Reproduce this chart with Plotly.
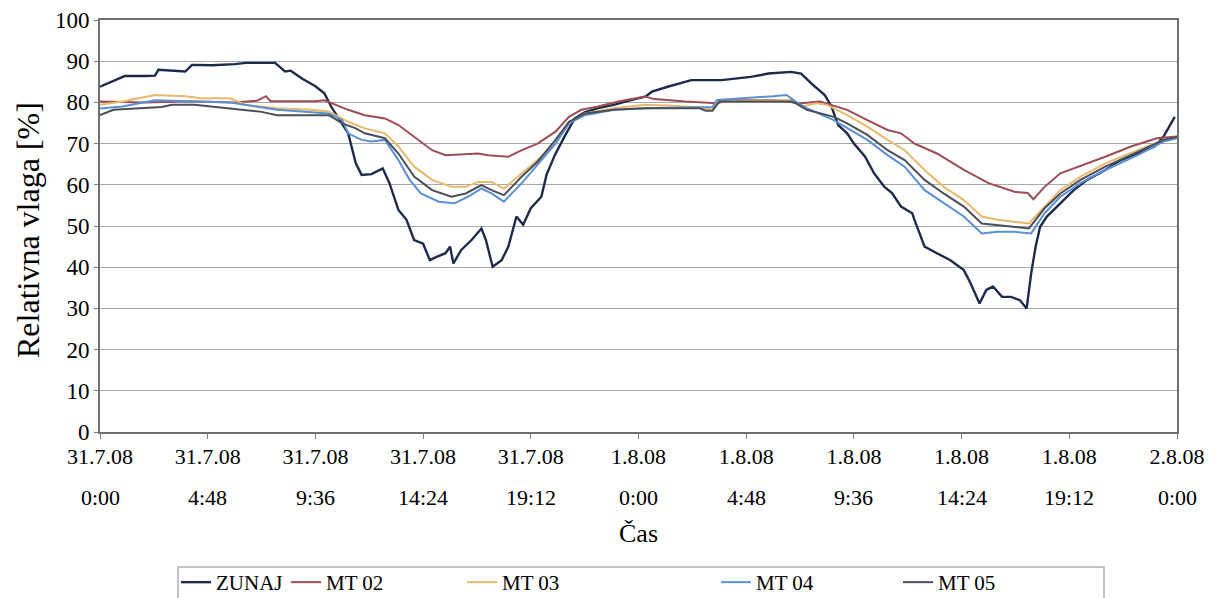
import plotly.graph_objects as go

# ---- data (hours since 31.7.08 0:00, relative humidity %) ----
zunaj_t = [0, 0.5, 1.1, 2.0, 2.45, 2.6, 3.8, 4.1, 5.0, 6.0, 6.5, 7.8, 8.0, 8.25, 8.5, 9.0, 9.6, 10.0,
           10.3, 10.8, 11.06, 11.4, 11.66, 12.1, 12.6, 12.9, 13.3, 13.66, 14.0, 14.4, 14.7, 15.0, 15.4,
           15.6, 15.75, 16.1, 16.56, 17.0, 17.2, 17.5, 17.9, 18.2, 18.56, 18.86, 19.2, 19.67, 19.9,
           20.27, 20.7, 21.16, 21.6, 22.2, 22.9, 23.7, 24.3, 24.6, 25.3, 26.35, 27.7, 29.0, 29.8, 30.8,
           31.25, 31.7, 32.3, 32.6, 32.9, 33.3, 33.6, 34.1, 34.5, 34.96, 35.3, 35.7, 36.2, 36.3, 36.75,
           37.3, 37.9, 38.5, 38.8, 39.2, 39.5, 39.8, 40.2, 40.6, 41.0, 41.3, 41.5, 41.7, 41.9, 42.2,
           42.8, 43.4, 44.0, 44.8, 45.5, 46.25, 47.0, 47.4, 47.9]
zunaj_v = [83.8, 85.0, 86.4, 86.4, 86.5, 87.9, 87.5, 89.1, 89.0, 89.3, 89.6, 89.6, 88.7, 87.5, 87.7, 85.8,
           83.9, 82.2, 79.0, 74.9, 72.5, 65.2, 62.4, 62.6, 64.0, 60.4, 53.9, 51.5, 46.6, 45.7, 41.7, 42.5,
           43.4, 45.0, 40.9, 44.2, 46.6, 49.4, 46.6, 40.1, 41.7, 45.0, 52.3, 50.3, 54.3, 57.1, 62.4, 67.2,
           71.7, 76.1, 77.6, 78.6, 79.4, 80.6, 81.4, 82.6, 83.8, 85.4, 85.4, 86.2, 87.0, 87.4, 87.0, 84.6,
           81.8, 79.0, 74.5, 72.5, 70.0, 66.8, 62.8, 59.5, 58.0, 54.7, 53.1, 51.5, 45.0, 43.4, 41.7, 39.3,
           36.1, 31.2, 34.5, 35.3, 32.8, 32.8, 32.0, 30.0, 38.5, 45.0, 49.8, 52.3, 55.5, 58.7, 61.2, 63.6,
           66.0, 67.6, 69.3, 71.7, 76.5]

mt02_t = [0, 2.0, 4.0, 6.0, 7.0, 7.4, 7.6, 9.6, 10.0, 11.06, 11.8, 12.7, 13.3, 14.0, 14.8, 15.4, 16.3,
          16.85, 17.3, 18.2, 18.8, 19.5, 20.3, 20.9, 21.45, 22.2, 23.1, 24.3, 24.7, 26.1, 27.5, 28.0,
          30.0, 31.25, 32.1, 33.3, 34.2, 35.1, 35.7, 36.3, 36.6, 37.3, 38.5, 39.6, 40.75, 41.35, 41.6,
          42.1, 42.8, 43.6, 44.8, 45.95, 47.1, 48.0]
mt02_v = [80.2, 80.0, 80.3, 80.0, 80.4, 81.5, 80.3, 80.3, 80.5, 78.2, 76.9, 76.1, 74.5, 71.7, 68.4, 67.2,
          67.4, 67.6, 67.2, 66.8, 68.4, 70.0, 72.9, 76.5, 78.2, 79.0, 80.2, 81.4, 80.8, 80.2, 79.8, 80.5,
          80.6, 79.8, 80.2, 78.2, 75.7, 73.3, 72.5, 70.0, 69.3, 67.6, 63.6, 60.4, 58.3, 58.0, 56.5, 59.5,
          62.8, 64.4, 66.8, 69.3, 71.3, 71.7]

mt03_t = [0, 1.0, 2.45, 3.8, 4.5, 5.8, 6.5, 7.9, 9.4, 10.2, 11.06, 11.8, 12.7, 13.3, 14.0, 14.8, 15.66,
          16.3, 16.85, 17.45, 18.0, 18.8, 19.5, 20.3, 20.9, 21.6, 22.9, 24.3, 25.5, 26.7, 27.3, 27.5,
          28.5, 30.8, 31.25, 31.9, 32.4, 33.3, 34.2, 35.1, 35.86, 36.75, 37.6, 38.5, 39.3, 40.0, 40.75,
          41.4, 42.1, 42.8, 43.7, 44.8, 46.25, 47.4, 48.0]
mt03_v = [79.4, 80.2, 81.8, 81.5, 81.0, 81.0, 79.4, 78.6, 78.2, 77.8, 75.3, 73.7, 72.5, 69.3, 64.4, 61.2,
          59.5, 59.5, 60.7, 60.7, 59.1, 62.8, 66.0, 70.0, 74.9, 77.3, 78.6, 79.4, 79.2, 78.8, 78.2, 80.2,
          80.4, 80.6, 78.9, 79.8, 79.4, 76.9, 74.1, 70.9, 68.4, 63.6, 59.5, 56.3, 52.3, 51.5, 51.1, 50.6,
          54.7, 58.7, 62.0, 65.2, 68.4, 70.9, 71.7]

mt04_t = [0, 1.0, 2.45, 4.0, 5.8, 7.9, 9.5, 10.2, 10.8, 11.06, 11.66, 12.1, 12.7, 13.3, 13.8, 14.3, 15.1,
          15.8, 16.4, 17.0, 17.45, 18.0, 18.8, 19.5, 20.3, 20.9, 21.6, 22.9, 24.3, 27.3, 27.5, 30.0,
          30.6, 31.0, 31.5, 32.7, 33.3, 34.2, 35.1, 35.86, 36.75, 37.6, 38.5, 39.3, 40.0, 40.75, 41.5,
          42.1, 42.8, 43.7, 44.8, 46.25, 47.4, 48.0]
mt04_v = [78.5, 79.0, 80.5, 80.3, 80.0, 78.2, 77.5, 77.3, 75.7, 72.5, 70.9, 70.5, 70.9, 66.0, 61.2, 57.9,
          55.9, 55.5, 57.1, 59.1, 57.9, 55.9, 60.4, 64.8, 70.0, 74.9, 76.9, 78.2, 78.6, 78.9, 80.6, 81.5,
          81.8, 80.2, 78.6, 75.7, 73.7, 70.9, 67.2, 64.4, 58.7, 55.5, 52.3, 48.2, 48.6, 48.6, 48.2, 53.1,
          57.1, 60.4, 63.6, 67.2, 70.5, 71.3]

mt05_t = [0, 0.6, 2.75, 3.2, 4.2, 5.0, 7.2, 7.9, 10.2, 10.8, 11.4, 11.8, 12.7, 13.3, 14.0, 14.8, 15.66,
          16.3, 17.0, 17.45, 18.0, 18.8, 19.5, 20.3, 20.9, 21.6, 22.9, 24.3, 26.7, 27.0, 27.3, 27.6,
          30.8, 31.0, 31.5, 32.7, 33.3, 34.2, 35.1, 35.86, 36.75, 37.6, 38.5, 39.3, 40.0, 40.75, 41.4,
          42.1, 42.8, 43.7, 44.8, 46.25, 47.4, 48.0]
mt05_v = [76.9, 78.2, 78.9, 79.4, 79.4, 78.9, 77.7, 76.9, 76.9, 74.9, 73.7, 72.5, 71.3, 67.6, 62.0, 58.7,
          57.1, 57.9, 59.9, 58.7, 57.5, 62.0, 65.6, 70.9, 75.3, 77.3, 78.2, 78.6, 78.6, 78.0, 78.0, 80.2,
          80.2, 79.8, 78.2, 76.5, 74.9, 72.1, 68.4, 66.0, 61.2, 57.9, 54.7, 50.6, 50.2, 49.8, 49.4, 54.3,
          57.9, 61.2, 64.4, 68.0, 70.9, 71.7]

series_names = ["ZUNAJ", "MT 02", "MT 03", "MT 04", "MT 05"]
tick_hours = [0, 4.8, 9.6, 14.4, 19.2, 24, 28.8, 33.6, 38.4, 43.2, 48]
tick_dates = ["31.7.08", "31.7.08", "31.7.08", "31.7.08", "31.7.08",
              "1.8.08", "1.8.08", "1.8.08", "1.8.08", "1.8.08", "2.8.08"]
tick_times = ["0:00", "4:48", "9:36", "14:24", "19:12",
              "0:00", "4:48", "9:36", "14:24", "19:12", "0:00"]
y_ticks = [0, 10, 20, 30, 40, 50, 60, 70, 80, 90, 100]

# ---- styling ----
FONT = "Liberation Serif, Tinos, Times New Roman, Times, DejaVu Serif, Liberation Sans"
colors = ["#1d2b4c", "#9d4d55", "#e9b96c", "#5b8fd6", "#4b4f57"]
widths = [2.4, 2.0, 2.0, 2.0, 2.0]
legend_keys = ["legend", "legend2", "legend3", "legend4", "legend5"]
legend_px = [176, 286, 462, 716, 898]   # page-pixel left of each legend entry

OFF = 8                       # page body margin offset
W, H = 1218 - OFF, 598 - OFF  # figure size
PL, PT, PR, PB = 100, 20, 1177, 432   # plot area in page pixels
L, T, R, B = PL - OFF, PT - OFF, W - (PR - OFF), H - (PB - OFF)
pw, ph = W - L - R, H - T - B

def px_to_paper_x(px):
    return (px - PL) / pw

def py_to_paper_y(py):
    return (PB - py) / ph

fig = go.Figure()
data = [(zunaj_t, zunaj_v), (mt02_t, mt02_v), (mt03_t, mt03_v), (mt04_t, mt04_v), (mt05_t, mt05_v)]
for i, (t, v) in enumerate(data):
    fig.add_trace(go.Scatter(x=t, y=v, mode="lines", name=series_names[i],
                             line=dict(color=colors[i], width=widths[i]),
                             legend=legend_keys[i]))

layout_legends = {}
for i, key in enumerate(legend_keys):
    layout_legends[key] = dict(x=(legend_px[i] - OFF) / W, y=1 - (562 - OFF) / H,
                               xref="container", yref="container",
                               xanchor="left", yanchor="top", orientation="h",
                               bgcolor="rgba(0,0,0,0)", borderwidth=0,
                               font=dict(family=FONT, size=21, color="#000"),
                               itemwidth=30, tracegroupgap=0)

annotations = []
for h, tt in zip(tick_hours, tick_times):
    annotations.append(dict(x=h, y=py_to_paper_y(497), xref="x", yref="paper", text=tt,
                            showarrow=False, xanchor="center", yanchor="middle",
                            font=dict(family=FONT, size=22, color="#000")))
annotations.append(dict(x=24, y=py_to_paper_y(533), xref="x", yref="paper", text="Čas",
                        showarrow=False, xanchor="center", yanchor="middle",
                        font=dict(family=FONT, size=26, color="#000")))
annotations.append(dict(x=px_to_paper_x(28), y=py_to_paper_y(230), xref="paper", yref="paper",
                        text="Relativna vlaga [%]", textangle=-90, showarrow=False,
                        xanchor="center", yanchor="middle",
                        font=dict(family=FONT, size=32, color="#000")))

fig.update_layout(
    width=W, height=H,
    margin=dict(l=L, r=R, t=T, b=B, autoexpand=False),
    paper_bgcolor="white", plot_bgcolor="white",
    font=dict(family=FONT, size=22, color="#000"),
    showlegend=True,
    annotations=annotations,
    shapes=[dict(type="rect", xref="paper", yref="paper",
                 x0=px_to_paper_x(178), x1=px_to_paper_x(1104),
                 y0=py_to_paper_y(567), y1=py_to_paper_y(620),
                 line=dict(color="#b0b0b0", width=1.5), fillcolor="rgba(0,0,0,0)", layer="below")],
    xaxis=dict(range=[0, 48], tickmode="array", tickvals=tick_hours, ticktext=tick_dates,
               showgrid=False, zeroline=False, showline=True, linecolor="#707070", linewidth=2,
               mirror=True, ticks="outside", ticklen=5, tickcolor="#808080", automargin=False,
               ticklabelstandoff=-1, ticklabeloverflow="allow",
               tickfont=dict(family=FONT, size=22, color="#000")),
    yaxis=dict(range=[0, 100], tickmode="array", tickvals=y_ticks,
               showgrid=True, gridcolor="#a8a8a8", gridwidth=1.3, zeroline=False,
               showline=True, linecolor="#707070", linewidth=2, mirror=True, automargin=False,
               ticks="outside", ticklen=4, tickcolor="#808080", ticklabeloverflow="allow",
               tickfont=dict(family=FONT, size=23, color="#000")),
    **layout_legends,
)

fig.write_html("out.html")
